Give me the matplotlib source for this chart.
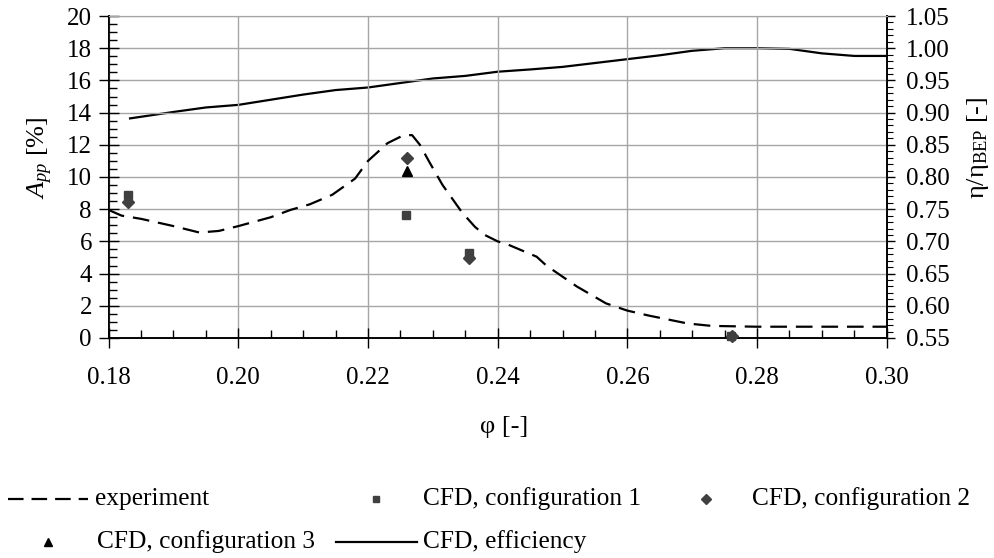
import matplotlib
matplotlib.use("Agg")
import matplotlib.pyplot as plt
from matplotlib import font_manager
from matplotlib.lines import Line2D
from matplotlib.ticker import MultipleLocator, FormatStrFormatter

available = {f.name for f in font_manager.fontManager.ttflist}
serif = next((n for n in ['Liberation Serif', 'Tinos', 'Times New Roman',
                          'Nimbus Roman', 'Noto Serif', 'DejaVu Serif']
              if n in available), 'serif')
plt.rcParams['font.family'] = [serif, 'DejaVu Serif']
plt.rcParams['mathtext.fontset'] = 'custom'
plt.rcParams['mathtext.rm'] = serif
plt.rcParams['mathtext.it'] = serif + ':italic'

# ---- data ----
phi_exp = [0.180, 0.182, 0.185, 0.190, 0.194, 0.197, 0.200, 0.205, 0.208, 0.211,
           0.2145, 0.218, 0.220, 0.223, 0.2255, 0.2268, 0.228, 0.2295, 0.2315,
           0.2345, 0.2365, 0.238, 0.240, 0.2416, 0.246, 0.2475, 0.2522, 0.2567,
           0.260, 0.2632, 0.2693, 0.273, 0.280, 0.300]
A_exp = [7.95, 7.6, 7.4, 6.95, 6.55, 6.65, 6.95, 7.5, 7.95, 8.3,
         8.9, 9.9, 11.0, 12.1, 12.6, 12.6, 12.0, 10.9, 9.5,
         7.8, 6.9, 6.4, 6.0, 5.8, 5.05, 4.5, 3.2, 2.15,
         1.7, 1.4, 0.9, 0.75, 0.7, 0.7]

phi_cfd1 = [0.183, 0.2258, 0.2355, 0.276]
A_cfd1 = [8.9, 7.65, 5.25, 0.15]

phi_cfd2 = [0.183, 0.226, 0.2355, 0.2762]
A_cfd2 = [8.45, 11.15, 4.95, 0.1]

phi_cfd3 = [0.226]
A_cfd3 = [10.4]

phi_eff = [0.1833, 0.190, 0.195, 0.200, 0.205, 0.210, 0.215, 0.220, 0.225, 0.230,
           0.235, 0.240, 0.245, 0.250, 0.255, 0.260, 0.265, 0.270, 0.275, 0.280,
           0.285, 0.290, 0.295, 0.300]
eta_eff = [0.891, 0.901, 0.908, 0.912, 0.920, 0.928, 0.935, 0.939, 0.946, 0.953,
           0.957, 0.9635, 0.967, 0.971, 0.977, 0.983, 0.989, 0.996, 1.000, 1.000,
           0.999, 0.992, 0.988, 0.988]

# ---- figure ----
fig = plt.figure(figsize=(9.95, 5.58), dpi=100)
ax = fig.add_axes([0.1092, 0.3943, 0.782, 0.577])
ax2 = ax.twinx()

grid_c = '#a6a6a6'
ax.set_xlim(0.18, 0.30)
ax.set_ylim(0, 20)
ax2.set_ylim(0.55, 1.05)

ax.xaxis.set_major_locator(MultipleLocator(0.02))
ax.xaxis.set_minor_locator(MultipleLocator(0.005))
ax.xaxis.set_major_formatter(FormatStrFormatter('%.2f'))
ax.yaxis.set_major_locator(MultipleLocator(2))
ax.yaxis.set_minor_locator(MultipleLocator(0.5))
ax2.yaxis.set_major_locator(MultipleLocator(0.05))
ax2.yaxis.set_minor_locator(MultipleLocator(0.01))
ax2.yaxis.set_major_formatter(FormatStrFormatter('%.2f'))

ax.grid(True, which='major', color=grid_c, linewidth=1.0)
ax.set_axisbelow(True)

tick_fs = 18
ax.tick_params(axis='x', which='major', direction='inout', length=14, width=1,
               labelsize=tick_fs, pad=14)
ax.tick_params(axis='x', which='minor', direction='in', length=6, width=1)
ax.tick_params(axis='y', which='major', direction='inout', length=14, width=1,
               labelsize=tick_fs, pad=5)
ax.tick_params(axis='y', which='minor', direction='in', length=6, width=1)
ax2.tick_params(axis='y', which='major', direction='out', length=6, width=1,
                labelsize=tick_fs, pad=8)
ax2.tick_params(axis='y', which='minor', direction='out', length=4, width=0.8)

for a in (ax, ax2):
    a.spines['top'].set_color(grid_c)
    a.spines['left'].set_linewidth(1.2)
    a.spines['bottom'].set_linewidth(1.2)
    a.spines['right'].set_linewidth(1.2)

# curves
ax.plot(phi_exp, A_exp, color='black', linewidth=1.6, dashes=(7.5, 4.0),
        clip_on=False, zorder=3)
ax2.plot(phi_eff, eta_eff, color='black', linewidth=1.6, zorder=3)

ax.plot(phi_cfd1, A_cfd1, linestyle='none', marker='s', markersize=5.5,
        color='#404040', clip_on=False, zorder=4)
ax.plot(phi_cfd2, A_cfd2, linestyle='none', marker='D', markersize=6,
        color='#404040', clip_on=False, zorder=4)
ax.plot(phi_cfd3, A_cfd3, linestyle='none', marker='^', markersize=7.5,
        color='black', clip_on=False, zorder=4)
ax.set_zorder(ax2.get_zorder() + 1)
ax.patch.set_visible(False)

# labels
lab_fs = 19
fig.text(504 / 995, 1 - 427 / 558, 'φ [-]', fontsize=lab_fs, ha='center', va='center')
fig.text(40 / 995, 1 - 158 / 558, r'$A_{pp}$ [%]', fontsize=lab_fs, rotation=90,
         ha='center', va='center')
fig.text(978 / 995, 1 - 148 / 558, r'η/η$_{\mathrm{BEP}}$ [-]', fontsize=lab_fs,
         rotation=90, ha='center', va='center')

# legend (manual, figure coordinates)
def fx(px):
    return px / 995

def fy(py):
    return 1 - py / 558

leg_fs = 18.3
y1, y2 = 499, 542
fig.add_artist(Line2D([fx(8), fx(88)], [fy(y1), fy(y1)], color='black',
                      linewidth=1.6, dashes=(7.0, 3.6), transform=fig.transFigure))
fig.text(fx(95), fy(y1), 'experiment', fontsize=leg_fs, va='center', ha='left')
fig.add_artist(Line2D([fx(376)], [fy(y1)], marker='s', markersize=5, color='#404040',
                      linestyle='none', transform=fig.transFigure))
fig.text(fx(423), fy(y1), 'CFD, configuration 1', fontsize=leg_fs, va='center', ha='left')
fig.add_artist(Line2D([fx(706)], [fy(y1)], marker='D', markersize=5, color='#404040',
                      linestyle='none', transform=fig.transFigure))
fig.text(fx(752), fy(y1), 'CFD, configuration 2', fontsize=leg_fs, va='center', ha='left')
fig.add_artist(Line2D([fx(48)], [fy(y2)], marker='^', markersize=6, color='black',
                      linestyle='none', transform=fig.transFigure))
fig.text(fx(97), fy(y2), 'CFD, configuration 3', fontsize=leg_fs, va='center', ha='left')
fig.add_artist(Line2D([fx(336), fx(417)], [fy(y2), fy(y2)], color='black',
                      linewidth=1.6, transform=fig.transFigure))
fig.text(fx(423), fy(y2), 'CFD, efficiency', fontsize=leg_fs, va='center', ha='left')

fig.savefig('out.png', dpi=100)
